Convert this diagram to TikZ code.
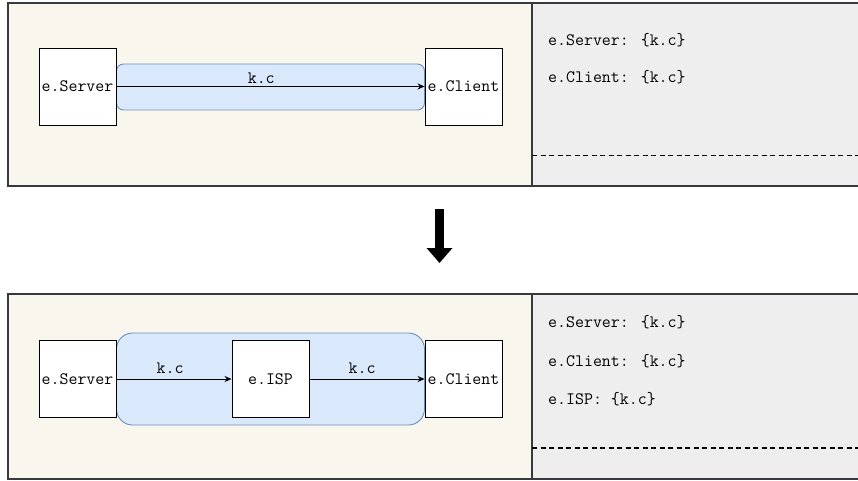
\documentclass[tikz,border=0pt]{standalone}
\usetikzlibrary{arrows.meta}
\definecolor{panelL}{HTML}{F9F7ED}
\definecolor{panelR}{HTML}{EEEEEE}
\definecolor{panelD}{HTML}{36393D}
\definecolor{blueF}{HTML}{DAE8FC}
\definecolor{blueD}{HTML}{6C8EBF}
\begin{document}
\begin{tikzpicture}[x=1pt,y=-1pt,
  tt/.style={font=\fontsize{17.4}{20}\selectfont\ttfamily, inner sep=0pt},
  panelleft/.style={fill=panelL, draw=panelD, line width=1.3pt},
  panelright/.style={fill=panelR, draw=panelD, line width=1.3pt},
  band/.style={fill=blueF, draw=blueD, line width=0.9pt},
  entity/.style={tt, draw=black, fill=white, line width=0.9pt, minimum width=77pt, minimum height=77pt, inner sep=0pt},
  flow/.style={-{Stealth[length=7pt,width=6pt]}, line width=0.9pt, black},
  lbl/.style={tt, anchor=base},
  sep/.style={dashed, dash pattern=on 5pt off 3.5pt, line width=1.3pt, black},
  bigarrow/.style={line width=8.7pt, -{Triangle[length=15pt,width=25pt]}, black}
]
\useasboundingbox (0,0) rectangle (858,481);

% ---------- top panel ----------
\path[panelleft] (8,3) rectangle (532,186);
\path[panelright] (532,3) rectangle (862,186);
\draw[sep] (532,155.5) -- (862,155.5);
\path[band, rounded corners=7pt] (116.5,64) rectangle (424.5,110);

\node[entity] (s1) at (77.5,86.5) {e.Server};
\node[entity] (c1) at (463.5,86.5) {e.Client};
\draw[flow] (s1) -- (c1) node[lbl, pos=0.47, yshift=2.5pt] {k.c};

\node[tt, anchor=west] (t1) at (548,40) {e.Server: \{k.c\}};
\node[tt, anchor=west] (t2) at (548,77.5) {e.Client: \{k.c\}};

% ---------- transition arrow ----------
\coordinate (a1) at (439.5,209);
\coordinate (a2) at (439.5,263);
\draw[bigarrow] (a1) -- (a2);

% ---------- bottom panel ----------
\path[panelleft] (8,294) rectangle (532,479);
\path[panelright] (532,294) rectangle (862,479);
\draw[sep] (532,448) -- (862,448);
\path[band, rounded corners=16pt] (116.5,333) rectangle (424.5,425);

\node[entity] (s2) at (77.5,379) {e.Server};
\node[entity] (i2) at (270.5,379) {e.ISP};
\node[entity] (c2) at (463.5,379) {e.Client};
\draw[flow] (s2) -- (i2) node[lbl, pos=0.466, yshift=6pt] {k.c};
\draw[flow] (i2) -- (c2) node[lbl, pos=0.457, yshift=6pt] {k.c};

\node[tt, anchor=west] (t3) at (548,322) {e.Server: \{k.c\}};
\node[tt, anchor=west] (t4) at (548,361) {e.Client: \{k.c\}};
\node[tt, anchor=west] (t5) at (548,399) {e.ISP: \{k.c\}};
\end{tikzpicture}
\end{document}
